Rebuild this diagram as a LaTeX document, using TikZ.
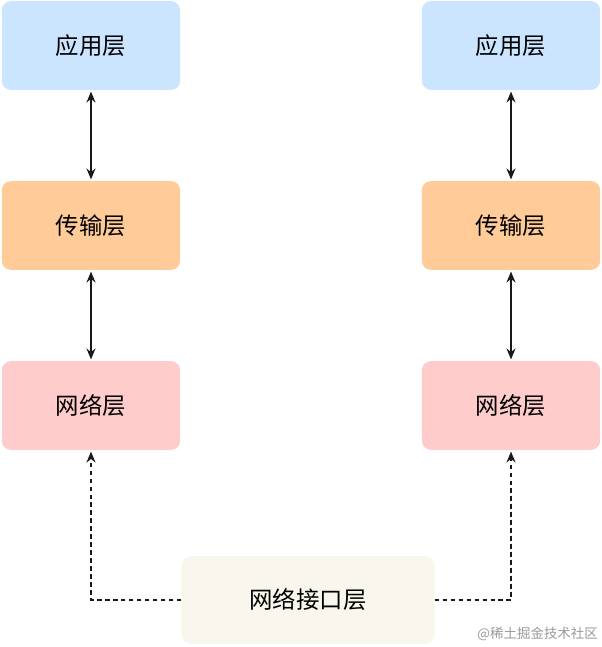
\documentclass[tikz,border=0pt]{standalone}
\usepackage{fontspec}
\newfontfamily\cjk{Noto Sans CJK SC}
\usetikzlibrary{arrows.meta}
\definecolor{appc}{HTML}{CCE5FF}
\definecolor{tranc}{HTML}{FFCC99}
\definecolor{netc}{HTML}{FFCCCC}
\definecolor{ifc}{HTML}{F9F7ED}
\tikzset{
  layer/.style={rounded corners=9pt, minimum width=179pt, minimum height=89pt, inner sep=0pt, font=\cjk\fontsize{23.5}{26}\selectfont, text=black},
  dbl/.style={{Stealth[length=11pt,width=9pt]}-{Stealth[length=11pt,width=9pt]}, line width=1.6pt, draw=black!90},
  dsh/.style={-{Stealth[length=11pt,width=9pt]}, line width=1.6pt, dash pattern=on 4.5pt off 3.5pt, draw=black!90},
}
\begin{document}
\begin{tikzpicture}[x=1bp,y=-1bp]
\useasboundingbox (0,0) rectangle (602,647);
\node[layer, fill=appc] (a1) at (91,45.5) {应用层};
\node[layer, fill=tranc] (t1) at (91,225.5) {传输层};
\node[layer, fill=netc] (n1) at (91,405.5) {网络层};
\node[layer, fill=appc] (a2) at (511,45.5) {应用层};
\node[layer, fill=tranc] (t2) at (511,225.5) {传输层};
\node[layer, fill=netc] (n2) at (511,405.5) {网络层};
\node[layer, fill=ifc, minimum width=254pt, minimum height=88pt] (ni) at (308,600) {网络接口层};
\draw[dbl] ([yshift=-1.5pt]a1.south) -- ([yshift=1.5pt]t1.north);
\draw[dbl] ([yshift=-1.5pt]t1.south) -- ([yshift=1.5pt]n1.north);
\draw[dbl] ([yshift=-1.5pt]a2.south) -- ([yshift=1.5pt]t2.north);
\draw[dbl] ([yshift=-1.5pt]t2.south) -- ([yshift=1.5pt]n2.north);
\draw[dsh] (ni.west) -| ([yshift=-1.5pt]n1.south);
\draw[dsh] (ni.east) -| ([yshift=-1.5pt]n2.south);
\node[anchor=east, font=\cjk\fontsize{13.5}{15}\selectfont, text=black!40, inner sep=0pt] (wm) at (598,634) {@稀土掘金技术社区};
\end{tikzpicture}
\end{document}
